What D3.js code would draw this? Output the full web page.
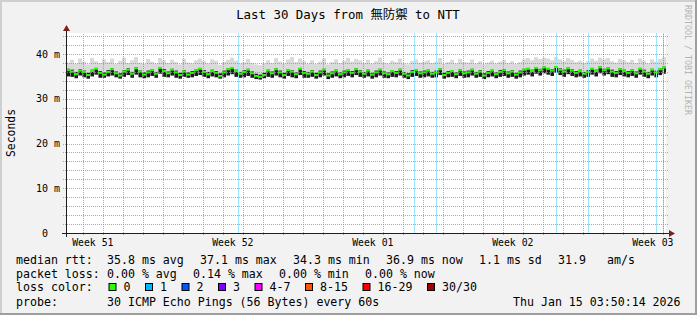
<!DOCTYPE html>
<html>
<head>
<meta charset="utf-8">
<script src="https://cdn.jsdelivr.net/npm/d3@7"></script>
<style>
    body { margin: 0; background: #f2f2f2; }
    svg text { font-family: "DejaVu Sans Mono", "Noto Sans CJK JP", monospace; white-space: pre; }
</style>
</head>
<body>
<svg id="chart" width="697" height="315"></svg>
<script>
// last 30 days, one sample every 4.8 h (150 samples), values in ms
const endTime = new Date(Date.UTC(2026, 0, 15, 3, 50, 14));
const startTime = d3.utcDay.offset(endTime, -30);

// top of the light smoke
const smokeMax = [
    38.1, 38.7, 37.9, 39.0, 38.3, 37.7, 39.1, 38.4, 38.0, 38.8,
    38.2, 39.0, 37.8, 38.5, 39.2, 38.0, 38.6, 39.3, 38.1, 37.8,
    38.9, 38.3, 37.9, 39.1, 38.6, 38.0, 38.7, 38.2, 37.7, 38.9,
    38.1, 37.9, 38.6, 39.0, 38.4, 37.9, 38.8, 38.5, 37.6, 38.2,
    38.7, 39.2, 38.5, 37.9, 38.1, 38.9, 38.0, 37.7, 37.5, 37.9,
    38.6, 38.0, 39.1, 38.3, 37.9, 38.8, 39.3, 38.2, 39.0, 38.4,
    37.9, 38.6, 37.8, 38.3, 39.0, 37.7, 38.2, 38.8, 38.0, 38.5,
    39.1, 38.3, 38.9, 38.6, 38.0, 38.7, 37.9, 38.4, 39.2, 38.1,
    37.9, 38.5, 38.2, 39.0, 37.9, 37.7, 38.4, 38.8, 38.1, 38.3,
    38.6, 38.0, 38.3, 39.1, 37.8, 38.2, 38.7, 37.9, 38.9, 38.2,
    38.1, 38.8, 37.9, 38.4, 37.7, 38.1, 38.5, 37.9, 38.3, 38.7,
    38.0, 38.4, 37.8, 38.2, 38.8, 39.1, 38.6, 39.3, 38.9, 39.2,
    39.0, 38.6, 39.3, 38.8, 38.4, 39.1, 38.7, 38.2, 38.5, 38.0,
    38.4, 39.0, 38.5, 39.2, 38.8, 39.1, 38.4, 38.1, 38.9, 38.6,
    38.2, 38.7, 38.0, 39.0, 38.5, 37.9, 38.8, 38.3, 38.9, 39.3
];
// upper edge of the dense (dark) smoke
const darkTop = [
    36.7, 36.5, 36.0, 36.6, 36.3, 35.8, 36.5, 36.9, 36.2, 35.9,
    36.4, 36.8, 36.1, 35.7, 36.4, 36.8, 36.0, 37.0, 36.3, 35.9,
    36.3, 36.6, 36.0, 37.1, 36.6, 36.1, 36.7, 36.3, 35.8, 36.4,
    35.9, 36.2, 36.6, 36.9, 36.4, 36.0, 36.5, 36.2, 35.7, 36.3,
    36.8, 37.1, 36.5, 36.0, 36.4, 36.7, 36.1, 35.6, 35.4, 35.8,
    36.5, 36.1, 36.8, 36.3, 35.8, 36.6, 36.4, 35.9, 36.9, 36.2,
    36.0, 36.4, 35.8, 36.3, 36.7, 35.7, 36.1, 36.5, 35.9, 36.3,
    36.6, 36.2, 36.8, 36.4, 36.0, 36.5, 35.8, 36.3, 36.7, 36.1,
    35.9, 36.4, 36.2, 36.7, 36.0, 35.7, 36.4, 36.6, 36.1, 36.3,
    36.5, 36.0, 36.3, 36.8, 35.8, 36.2, 36.4, 35.9, 36.6, 36.1,
    36.3, 36.7, 36.0, 36.4, 35.7, 36.2, 36.5, 35.9, 36.4, 36.6,
    36.1, 36.4, 35.8, 36.3, 36.7, 36.9, 36.5, 37.1, 36.7, 37.2,
    36.9, 36.6, 37.3, 36.8, 36.5, 37.0, 36.6, 36.2, 36.5, 36.0,
    36.4, 36.9, 36.5, 37.2, 36.7, 37.0, 36.5, 36.2, 36.8, 36.5,
    36.2, 36.6, 36.1, 36.9, 36.5, 36.0, 36.7, 36.3, 36.8, 37.2
];
// median rtt
const medianRtt = [
    36.4, 36.1, 35.5, 36.3, 36.0, 35.3, 36.2, 36.7, 35.8, 35.4,
    36.0, 36.6, 35.7, 35.2, 36.1, 36.5, 35.6, 36.8, 36.1, 35.4,
    35.9, 36.4, 35.6, 36.9, 36.2, 35.7, 36.5, 35.9, 35.3, 36.1,
    35.4, 35.8, 36.4, 36.7, 36.0, 35.5, 36.2, 35.8, 35.1, 35.9,
    36.6, 36.9, 36.2, 35.6, 36.0, 36.5, 35.7, 35.1, 34.9, 35.3,
    36.3, 35.7, 36.6, 35.9, 35.3, 36.4, 36.1, 35.5, 36.7, 35.8,
    35.6, 36.1, 35.3, 35.9, 36.5, 35.2, 35.7, 36.3, 35.5, 35.9,
    36.4, 35.8, 36.6, 36.1, 35.6, 36.3, 35.4, 35.9, 36.5, 35.7,
    35.5, 36.2, 35.8, 36.5, 35.6, 35.2, 36.0, 36.4, 35.7, 35.9,
    36.3, 35.6, 35.9, 36.6, 35.3, 35.8, 36.2, 35.5, 36.4, 35.7,
    35.9, 36.5, 35.6, 36.1, 35.2, 35.8, 36.3, 35.5, 36.0, 36.4,
    35.7, 36.1, 35.4, 35.9, 36.5, 36.7, 36.2, 36.9, 36.4, 37.0,
    36.7, 36.3, 37.1, 36.5, 36.1, 36.8, 36.3, 35.8, 36.2, 35.6,
    36.0, 36.7, 36.2, 37.0, 36.4, 36.8, 36.1, 35.8, 36.6, 36.2,
    35.8, 36.4, 35.7, 36.7, 36.1, 35.6, 36.5, 35.9, 36.6, 37.0
];
// lower edge of the dense smoke
const darkLow = [
    35.0, 34.9, 34.6, 35.2, 34.8, 34.5, 35.0, 35.4, 34.7, 34.7,
    35.0, 35.2, 34.8, 34.5, 34.9, 35.3, 34.7, 35.4, 34.8, 34.6,
    34.8, 35.1, 34.7, 35.6, 34.9, 34.8, 35.2, 34.7, 34.5, 34.9,
    34.7, 34.8, 35.1, 35.3, 34.9, 34.6, 35.0, 34.8, 34.5, 34.8,
    35.2, 35.5, 34.9, 34.7, 34.8, 35.1, 34.7, 34.4, 34.3, 34.6,
    34.9, 34.7, 35.2, 34.8, 34.5, 35.1, 34.8, 34.6, 35.3, 34.7,
    34.7, 34.9, 34.5, 34.8, 35.2, 34.4, 34.7, 35.0, 34.6, 34.8,
    35.1, 34.8, 35.3, 34.9, 34.7, 35.0, 34.5, 34.8, 35.2, 34.7,
    34.6, 34.9, 34.8, 35.2, 34.7, 34.4, 34.9, 35.1, 34.7, 34.8,
    35.0, 34.7, 34.8, 35.3, 34.5, 34.8, 34.9, 34.6, 35.1, 34.7,
    34.8, 35.2, 34.7, 34.9, 34.4, 34.8, 35.0, 34.6, 34.9, 35.1,
    34.7, 34.9, 34.5, 34.8, 35.2, 35.4, 35.0, 35.6, 35.2, 35.7,
    35.4, 35.1, 35.8, 35.3, 34.9, 35.5, 35.1, 34.8, 35.0, 34.7,
    34.9, 35.4, 35.0, 35.7, 35.2, 35.5, 34.9, 34.8, 35.3, 35.0,
    34.8, 35.1, 34.7, 35.4, 34.9, 34.6, 35.2, 34.8, 35.3, 35.6
];

// samples with 1/30 loss (light blue background stripes)
const lossTimes = [
    "2025-12-24T18:36:00Z", "2026-01-02T13:48:00Z", "2026-01-03T16:12:00Z",
    "2026-01-09T16:12:00Z", "2026-01-11T06:36:00Z", "2026-01-14T16:12:00Z",
    "2026-01-15T00:36:00Z"
];

// axis labels
const yTicks = [0, 0.010, 0.020, 0.030, 0.040];
const yTickLabels = ["0  ", "10 m", "20 m", "30 m", "40 m"];
const weekStarts = ["2025-12-14", "2025-12-21", "2025-12-28", "2026-01-04", "2026-01-11"];
const weekLabels = ["Week 51", "Week 52", "Week 01", "Week 02", "Week 03"];

// legend
const lossLabels = ["0", "1", "2", "3", "4-7", "8-15", "16-29", "30/30"];
const lossColors = ["#26ff00", "#00b8ff", "#0059ff", "#7e00ff", "#ff00ff", "#ff5500", "#ff0000", "#a10000"];

const svg = d3.select("#chart");
const W = 697, H = 315;
const plot = {left: 66, right: 666, top: 33, bottom: 233};

const x = d3.scaleUtc().domain([startTime, endTime]).range([plot.left, plot.right]);
const y = d3.scaleLinear().domain([0, 0.0447]).range([plot.bottom, plot.top]);

const stepMs = (endTime - startTime) / medianRtt.length;
const samples = medianRtt.map((m, i) => ({
    t: new Date(+startTime + i * stepMs),
    max: smokeMax[i] / 1000,
    hi: darkTop[i] / 1000,
    med: m / 1000,
    lo: darkLow[i] / 1000
}));
const stepPx = x(new Date(+startTime + stepMs)) - x(startTime);

// background and 3d frame
svg.append("rect").attr("width", W).attr("height", H).attr("fill", "#f2f2f2");
svg.append("rect").attr("x", 0).attr("y", 0).attr("width", W).attr("height", 2).attr("fill", "#cfcfcf");
svg.append("rect").attr("x", 0).attr("y", 0).attr("width", 2).attr("height", H).attr("fill", "#cfcfcf");
svg.append("rect").attr("x", 0).attr("y", H - 2).attr("width", W).attr("height", 2).attr("fill", "#9e9e9e");
svg.append("rect").attr("x", W - 2).attr("y", 0).attr("width", 2).attr("height", H).attr("fill", "#9e9e9e");

// canvas
svg.append("rect")
    .attr("x", plot.left).attr("y", plot.top)
    .attr("width", plot.right - plot.left).attr("height", plot.bottom - plot.top)
    .attr("fill", "#ffffff");

// light smoke
svg.append("g").selectAll("rect").data(samples).enter().append("rect")
    .attr("x", d => x(d.t)).attr("width", stepPx)
    .attr("y", d => y(d.max)).attr("height", d => y(d.lo) - y(d.max))
    .attr("fill", "#dadada");

// dense smoke
svg.append("g").selectAll("rect").data(samples).enter().append("rect")
    .attr("x", d => x(d.t) + 0.5).attr("width", stepPx - 0.5)
    .attr("y", d => y(d.hi)).attr("height", d => y(d.lo) - y(d.hi))
    .attr("fill", "#1c1c1c");

// loss background stripes
svg.append("g").selectAll("rect").data(lossTimes).enter().append("rect")
    .attr("x", d => Math.floor(x(new Date(d)))).attr("width", 1)
    .attr("y", plot.top).attr("height", plot.bottom - plot.top)
    .attr("fill", "#9fe3ff");

// median, coloured by loss (0 -> green)
svg.append("g").selectAll("rect").data(samples).enter().append("rect")
    .attr("x", d => x(d.t)).attr("width", stepPx)
    .attr("y", d => y(d.med) - 1).attr("height", 2)
    .attr("fill", lossColors[0]);

// grid (drawn over the data like rrdtool does)
const grid = svg.append("g").attr("stroke-dasharray", "1,1").attr("stroke-width", 1);
const minorGrid = "rgba(143,143,143,0.75)";
const majorGrid = "rgba(222,79,79,0.6)";

d3.utcDay.range(d3.utcDay.ceil(startTime), endTime).forEach(t => {
    let major = t.getUTCDay() === 0;
    grid.append("line")
        .attr("x1", Math.round(x(t)) + 0.5).attr("x2", Math.round(x(t)) + 0.5)
        .attr("y1", plot.bottom + 2).attr("y2", plot.top)
        .attr("stroke", major ? majorGrid : minorGrid);
});
d3.range(0.002, 0.0447, 0.002).forEach(v => {
    let major = Math.abs(v * 1000 % 10) < 0.01 || Math.abs(v * 1000 % 10 - 10) < 0.01;
    grid.append("line")
        .attr("x1", plot.left - 3).attr("x2", plot.right + 2)
        .attr("y1", Math.round(y(v)) + 0.5).attr("y2", Math.round(y(v)) + 0.5)
        .attr("stroke", major ? majorGrid : minorGrid);
});

// axes with arrows
svg.append("line").attr("x1", plot.left - 4).attr("x2", plot.right + 4)
    .attr("y1", plot.bottom + 0.5).attr("y2", plot.bottom + 0.5)
    .attr("stroke", "#1f1f1f");
svg.append("line").attr("x1", plot.left + 0.5).attr("x2", plot.left + 0.5)
    .attr("y1", plot.bottom + 4).attr("y2", plot.top - 4)
    .attr("stroke", "#1f1f1f");
svg.append("path")
    .attr("d", `M${plot.right + 3},${plot.bottom - 3}L${plot.right + 9},${plot.bottom + 0.5}L${plot.right + 3},${plot.bottom + 4}Z`)
    .attr("fill", "#7f1f1f");
svg.append("path")
    .attr("d", `M${plot.left - 3},${plot.top - 2}L${plot.left + 0.5},${plot.top - 8}L${plot.left + 4},${plot.top - 2}Z`)
    .attr("fill", "#7f1f1f");

// y tick labels
svg.append("g").selectAll("text").data(yTicks).enter().append("text")
    .attr("x", 60).attr("y", d => y(d) + 3.5)
    .attr("text-anchor", "end").style("font-size", "10px")
    .text((d, i) => yTickLabels[i]);

// week labels, centred in the middle of each week
svg.append("g").selectAll("text").data(weekStarts).enter().append("text")
    .attr("x", d => x(d3.utcHour.offset(new Date(d + "T00:00:00Z"), 84)))
    .attr("y", 246)
    .attr("text-anchor", "middle").style("font-size", "9.8px")
    .text((d, i) => weekLabels[i]);

// title
svg.append("text").attr("x", 348).attr("y", 19).attr("text-anchor", "middle")
    .style("font-size", "12.4px").text("Last 30 Days from 無防禦 to NTT");

// vertical axis title
svg.append("text").attr("transform", "translate(15,133) rotate(-90)")
    .attr("text-anchor", "middle").style("font-size", "11.4px").text("Seconds");

// rrdtool watermark
svg.append("text").attr("transform", "translate(685,5) rotate(90)")
    .style("font-size", "8.3px").attr("fill", "#b4b4b4").text("RRDTOOL / TOBI OETIKER");

// legend text
const legendFont = "11.6px";
function legendRow(yPos, items) {
    items.forEach(it => {
        svg.append("text").attr("x", it[0]).attr("y", yPos)
            .style("font-size", legendFont).text(it[1]);
    });
}
legendRow(263.5, [[16, "median rtt:"], [107, "35.8 ms avg"], [200, "37.1 ms max"], [293, "34.3 ms min"],
    [386, "36.9 ms now"], [479, "1.1 ms sd"], [558, "31.9"], [607, "am/s"]]);
legendRow(277.5, [[16, "packet loss:"], [107, "0.00 % avg"], [193, "0.14 % max"], [279, "0.00 % min"], [365, "0.00 % now"]]);
legendRow(291, [[16, "loss color:"]]);
legendRow(305.5, [[16, "probe:"], [107, "30 ICMP Echo Pings (56 Bytes) every 60s"], [513, "Thu Jan 15 03:50:14 2026"]]);

// loss colour boxes
let bx = 108.5;
lossLabels.forEach((lab, i) => {
    svg.append("rect").attr("x", bx + 0.5).attr("y", 283.5).attr("width", 7).attr("height", 7)
        .attr("fill", lossColors[i]).attr("stroke", "#000").attr("stroke-width", 1);
    svg.append("text").attr("x", bx + 15).attr("y", 291)
        .style("font-size", legendFont).text(lab);
    bx += 15 + 7 * lab.length + 14.5;
});
</script>
</body>
</html>
